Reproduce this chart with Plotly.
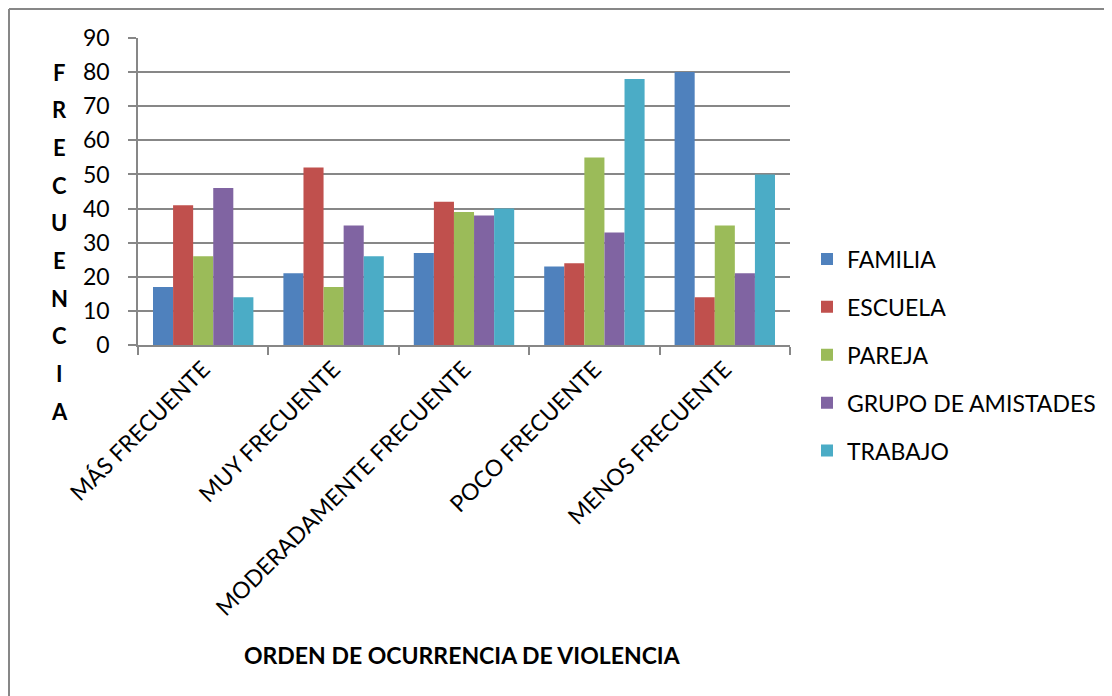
import plotly.graph_objects as go

categories = [
    "MÁS FRECUENTE",
    "MUY FRECUENTE",
    "MODERADAMENTE FRECUENTE",
    "POCO FRECUENTE",
    "MENOS FRECUENTE",
]
familia = [17, 21, 27, 23, 80]
escuela = [41, 52, 42, 24, 14]
pareja = [26, 17, 39, 55, 35]
amistades = [46, 35, 38, 33, 21]
trabajo = [14, 26, 40, 78, 50]

series = [
    ("FAMILIA", familia, "#4F81BD"),
    ("ESCUELA", escuela, "#C0504D"),
    ("PAREJA", pareja, "#9BBB59"),
    ("GRUPO DE AMISTADES", amistades, "#8064A2"),
    ("TRABAJO", trabajo, "#4BACC6"),
]

FONT = "Lato, 'Open Sans', sans-serif"
# page has an 8px body margin, so the figure is a bit smaller than the window
W, H = 1104, 688
OFF = 8
# plot area in page pixels
PX0, PX1, PY0, PY1 = 138, 790, 38, 345
pw, ph = PX1 - PX0, PY1 - PY0


def px(xp):
    return (xp - PX0) / pw


def py(yp):
    return (PY1 - yp) / ph


fig = go.Figure()
for name, vals, color in series:
    fig.add_trace(go.Bar(
        x=categories,
        y=vals,
        name=name,
        legendgroup=name,
        marker=dict(color=color, line=dict(width=0)),
    ))

fig.update_layout(
    width=W,
    height=H,
    margin=dict(l=PX0 - OFF, r=W + OFF - PX1, t=PY0 - OFF, b=H + OFF - PY1),
    paper_bgcolor="white",
    plot_bgcolor="white",
    barmode="group",
    bargap=0.23,
    bargroupgap=0,
    font=dict(family=FONT, size=23, color="black"),
    legend=dict(
        xref="container", yref="container",
        x=(807 - OFF) / W, y=1 - (355 - OFF) / H,
        yanchor="middle", xanchor="left",
        font=dict(size=23),
        tracegroupgap=15,
        traceorder="grouped",
        itemwidth=30,
    ),
    xaxis=dict(
        showgrid=False,
        showline=True, linecolor="#878787", linewidth=1.5,
        ticks="outside", tickson="boundaries", ticklen=8,
        tickcolor="#878787", tickwidth=1.5,
        tickangle=-45,
        tickfont=dict(size=23),
    ),
    yaxis=dict(
        range=[0, 90], dtick=10,
        showgrid=True, gridcolor="#878787", gridwidth=1.5,
        showline=True, linecolor="#878787", linewidth=1.5,
        ticks="outside", ticklen=8, tickcolor="#878787", tickwidth=1.5,
        ticklabelstandoff=14,
        zeroline=False,
        tickfont=dict(size=23),
    ),
)

# vertical stacked y title
for i, ch in enumerate("FRECUENCIA"):
    fig.add_annotation(
        text="<b>%s</b>" % ch,
        xref="paper", yref="paper",
        x=px(59), y=py(72 + i * 37.7),
        showarrow=False, font=dict(size=22),
        xanchor="center", yanchor="middle",
    )

fig.add_annotation(
    text="<b>ORDEN DE OCURRENCIA DE VIOLENCIA</b>",
    xref="paper", yref="paper",
    x=px(462), y=py(655),
    showarrow=False, font=dict(size=23),
    xanchor="center", yanchor="middle",
)

# outer chart border (runs past the right and bottom of the picture)
fig.add_shape(type="line", xref="paper", yref="paper",
              x0=px(9), x1=px(9), y0=py(9), y1=py(720),
              line=dict(color="#878787", width=2))
fig.add_shape(type="line", xref="paper", yref="paper",
              x0=px(9), x1=px(1130), y0=py(9), y1=py(9),
              line=dict(color="#878787", width=2))

fig.write_html("out.html")
